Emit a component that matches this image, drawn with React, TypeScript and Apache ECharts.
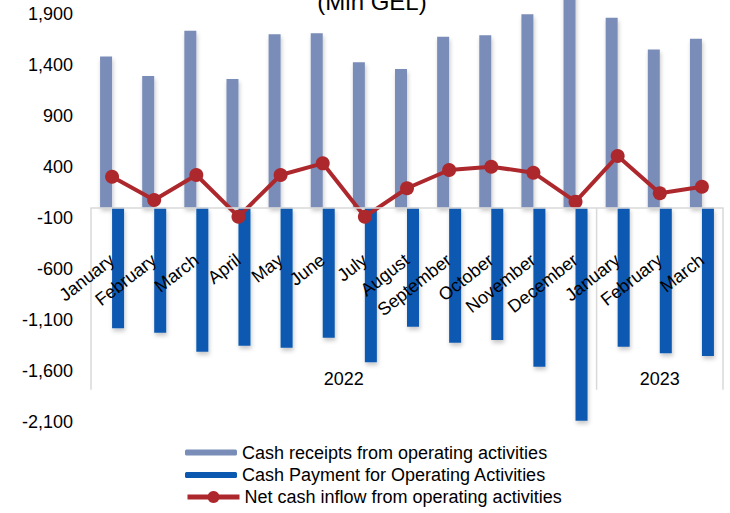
import React, { useEffect, useRef } from "react";
import * as echarts from "echarts";

const months = [
  "January", "February", "March", "April", "May", "June", "July",
  "August", "September", "October", "November", "December",
  "January", "February", "March",
];
const yearGroups = ["2022", "2023"];
const yearSpans = [12, 3];

const receipts = [1480, 1290, 1733, 1260, 1698, 1707, 1424, 1358, 1674, 1688, 1893, 2150, 1860, 1549, 1654];
const payments = [-1179, -1222, -1408, -1349, -1369, -1271, -1512, -1163, -1320, -1294, -1555, -2083, -1359, -1424, -1450];
const netInflow = [304, 76, 321, -87, 321, 435, -87, 191, 370, 402, 343, 60, 507, 142, 206];

const seriesNames = [
  "Cash receipts from operating activities",
  "Cash Payment for Operating Activities",
  "Net cash inflow from operating activities",
];

const yMin = -2100;
const yMax = 2400;
const yInterval = 500;

const FONT = "'Liberation Sans', Arial, sans-serif";
const COLORS = ["#7a8db8", "#0a58b0", "#ad282d"];
const LABEL_GAP = 50;

export default function App() {
  const ref = useRef<HTMLDivElement>(null);

  useEffect(() => {
    document.body.style.margin = "0";
    if (!ref.current) return;
    const chart = echarts.init(ref.current, undefined, { renderer: "svg" });
    const categories = months.map((m, i) => `${m}#${i}`);
    const legendBase = {
      orient: "vertical",
      left: 180,
      itemWidth: 52,
      textStyle: { fontSize: 18, color: "#000", fontFamily: FONT },
      selectedMode: false,
    };
    chart.setOption({
      animation: false,
      textStyle: { fontFamily: FONT },
      grid: {
        left: 91,
        right: 7,
        top: -37.5,
        bottom: 90.6,
        containLabel: false,
        outerBoundsMode: "none",
      },
      xAxis: [
        {
          type: "category",
          data: categories,
          z: 20,
          axisLine: { show: true, onZero: true, lineStyle: { color: "#d9d9d9", width: 1.5 } },
          axisTick: { show: false },
          axisLabel: {
            interval: 0,
            rotate: 38,
            margin: LABEL_GAP,
            fontSize: 18,
            color: "#000",
            fontFamily: FONT,
            hideOverlap: false,
            formatter: (v: string) => v.split("#")[0],
          },
        },
        { type: "value", min: 0, max: months.length, show: false },
      ],
      yAxis: {
        type: "value",
        min: yMin,
        max: yMax,
        interval: yInterval,
        axisLine: { show: false },
        axisTick: { show: false },
        splitLine: { show: false },
        axisLabel: {
          fontSize: 18,
          color: "#000",
          margin: 18,
          fontFamily: FONT,
          formatter: (v: number) => v.toLocaleString("en-US"),
        },
      },
      legend: [
        { ...legendBase, top: 438.5, itemHeight: 6, data: [seriesNames[0]] },
        { ...legendBase, top: 461, itemHeight: 6, data: [seriesNames[1]] },
        { ...legendBase, top: 483, itemHeight: 15, lineStyle: { width: 5 }, data: [seriesNames[2]] },
      ],
      series: [
        {
          name: seriesNames[0],
          type: "bar",
          data: receipts,
          barWidth: 12,
          barGap: "0%",
          itemStyle: {
            color: COLORS[0],
            shadowColor: "rgba(0,0,0,0.22)",
            shadowBlur: 4,
            shadowOffsetX: 1,
            shadowOffsetY: 3,
          },
        },
        {
          name: seriesNames[1],
          type: "bar",
          data: payments,
          barWidth: 12,
          barGap: "0%",
          itemStyle: {
            color: COLORS[1],
            shadowColor: "rgba(0,0,0,0.22)",
            shadowBlur: 4,
            shadowOffsetX: 1,
            shadowOffsetY: 3,
          },
        },
        {
          name: seriesNames[2],
          type: "line",
          data: netInflow,
          symbol: "circle",
          symbolSize: 14,
          z: 5,
          lineStyle: { color: COLORS[2], width: 4 },
          itemStyle: { color: COLORS[2] },
        },
      ],
    });

    const yZero = chart.convertToPixel({ yAxisIndex: 0 }, 0) as number;
    const yBottom = chart.convertToPixel({ yAxisIndex: 0 }, yMin) as number;
    const graphics: any[] = [];
    const boundaries = [0];
    yearSpans.forEach((s) => boundaries.push(boundaries[boundaries.length - 1] + s));
    boundaries.forEach((b) => {
      const x = chart.convertToPixel({ xAxisIndex: 1 }, b) as number;
      graphics.push({
        type: "line",
        shape: { x1: x, y1: yZero, x2: x, y2: yZero + 182 },
        style: { stroke: "#d9d9d9", lineWidth: 1.5 },
        silent: true,
      });
    });
    yearGroups.forEach((yr, i) => {
      const xa = chart.convertToPixel({ xAxisIndex: 1 }, boundaries[i]) as number;
      const xb = chart.convertToPixel({ xAxisIndex: 1 }, boundaries[i + 1]) as number;
      graphics.push({
        type: "text",
        x: (xa + xb) / 2,
        y: yZero + 171,
        style: { text: yr, fontSize: 18, fill: "#000", fontFamily: FONT, align: "center", verticalAlign: "middle" },
        silent: true,
      });
    });
    graphics.push({
      type: "text",
      x: 372,
      y: 1,
      style: { text: "(Mln GEL)", fontSize: 24, fill: "#000", fontFamily: FONT, align: "center", verticalAlign: "middle" },
      silent: true,
    });
    chart.setOption({
      graphic: graphics,
      xAxis: [{ axisLabel: { margin: LABEL_GAP - (yBottom - yZero) } }, {}],
    });

    return () => chart.dispose();
  }, []);

  return <div ref={ref} style={{ width: 730, height: 513 }} />;
}
